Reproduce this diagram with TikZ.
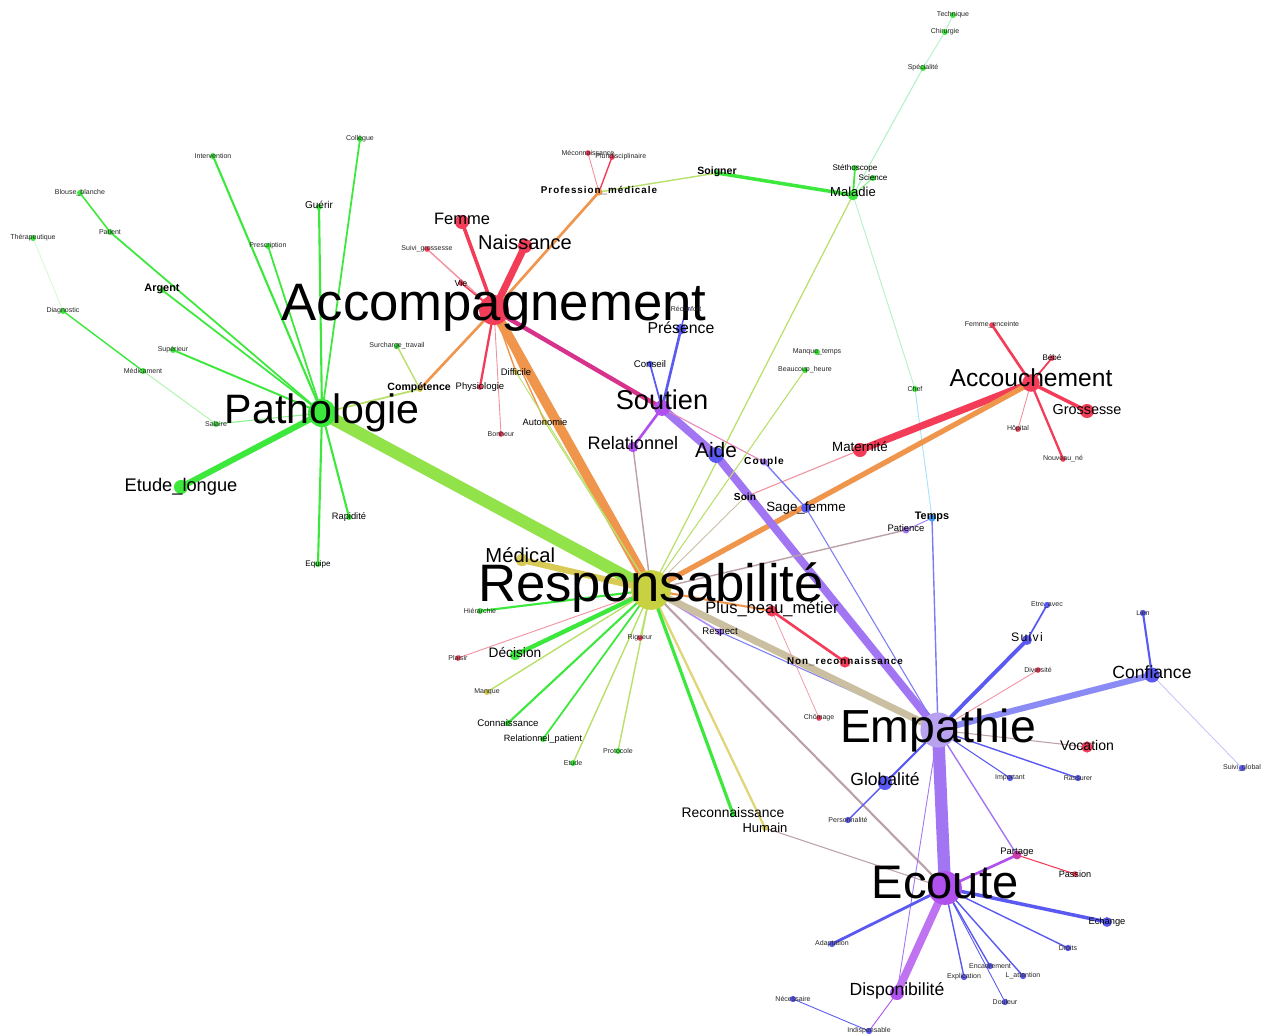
\documentclass[tikz,border=0pt]{standalone}
\usepackage{fontspec}
\setmainfont{Liberation Sans}
\newfontfamily\widefont{Liberation Sans}[LetterSpace=10]

\definecolor{cGreen}{HTML}{3DE83D}
\definecolor{cLime}{HTML}{B8E06A}
\definecolor{cPale}{HTML}{B4F0C8}
\definecolor{cRed}{HTML}{F23C58}
\definecolor{cPink}{HTML}{F290A0}
\definecolor{cOrange}{HTML}{F0954C}
\definecolor{cYellow}{HTML}{C8D240}
\definecolor{cGold}{HTML}{D8CA55}
\definecolor{cMagenta}{HTML}{D8338C}
\definecolor{cPurple}{HTML}{A276F2}
\definecolor{cViolet}{HTML}{B050EE}
\definecolor{cLavender}{HTML}{B8A2F0}
\definecolor{cBlue}{HTML}{5A5AF2}
\definecolor{cTan}{HTML}{CBBFA2}
\definecolor{cMauve}{HTML}{BCA0A8}
\definecolor{cPathoResp}{HTML}{92E24A}

\begin{document}
\begin{tikzpicture}[
    x=0.02cm,
    y=-0.02cm,
    line cap=round,
    link/.style={
        line width=#1
    },
    lab/.style={
        inner sep=0pt,
        font=\fontsize{#1}{#1}\selectfont
    },
    labb/.style={
        inner sep=0pt,
        font=\bfseries\fontsize{#1}{#1}\selectfont
    },
    labw/.style={
        inner sep=0pt,
        font=\widefont\bfseries\fontsize{#1}{#1}\selectfont
    },
    petit/.style={
        inner sep=0pt,
        text=black!85,
        font=\fontsize{4}{4}\selectfont
    }
]

\fill[white] (0,0) rectangle (1265,1035);
\useasboundingbox (0,0) rectangle (1265,1035);

% =================================================
% Positions des mots
% =================================================

% Pathologie
\coordinate (Patho) at (322,413);
\coordinate (EtudeL) at (181,487);
\coordinate (Rapidite) at (349,517);
\coordinate (Equipe) at (318,564);
\coordinate (Salaire) at (216,424);
\coordinate (Medicament) at (143,371);
\coordinate (Diagnostic) at (63,311);
\coordinate (Therap) at (33,238);
\coordinate (Superieur) at (173,350);
\coordinate (Argent) at (162,290);
\coordinate (Patient) at (110,232);
\coordinate (Blouse) at (80,193);
\coordinate (Interv) at (213,156);
\coordinate (Prescr) at (268,246);
\coordinate (Guerir) at (319,207);
\coordinate (Collegue) at (360,139);
\coordinate (Competence) at (420,389);
\coordinate (Surcharge) at (397,346);

% Accompagnement
\coordinate (Accomp) at (494,310);
\coordinate (Femme) at (462,222);
\coordinate (Naissance) at (525,246);
\coordinate (SuiviG) at (427,249);
\coordinate (Vie) at (461,283);
\coordinate (Physio) at (480,387);
\coordinate (Difficile) at (516,372);
\coordinate (Autonomie) at (545,422);
\coordinate (Bonheur) at (501,434);
\coordinate (ProfMed) at (599,192);
\coordinate (Meconn) at (588,153);
\coordinate (Pluri) at (612,157);
\coordinate (Soigner) at (717,173);
\coordinate (Maladie) at (853,195);
\coordinate (Stetho) at (855,168);
\coordinate (Science) at (873,178);
\coordinate (Specialite) at (923,68);
\coordinate (Chirurgie) at (945,32);
\coordinate (Technique) at (953,15);

% Soutien et Accouchement
\coordinate (Soutien) at (662,408);
\coordinate (Presence) at (681,329);
\coordinate (Reconfort) at (686,309);
\coordinate (Conseil) at (650,364);
\coordinate (Relationnel) at (633,447);
\coordinate (Aide) at (716,455);
\coordinate (Couple) at (764,462);
\coordinate (Soin) at (745,497);
\coordinate (SageF) at (806,508);
\coordinate (Maternite) at (860,450);
\coordinate (Accouch) at (1031,383);
\coordinate (Grossesse) at (1087,411);
\coordinate (FemmeE) at (992,325);
\coordinate (Bebe) at (1052,358);
\coordinate (Hopital) at (1018,429);
\coordinate (NouveauNe) at (1063,459);
\coordinate (Chef) at (915,389);
\coordinate (ManqueT) at (817,352);
\coordinate (BeaucoupH) at (805,370);
\coordinate (Temps) at (932,518);
\coordinate (Patience) at (906,530);

% Responsabilite
\coordinate (Resp) at (651,590);
\coordinate (Medical) at (522,560);
\coordinate (Hierarchie) at (480,611);
\coordinate (Plaisir) at (458,658);
\coordinate (Decision) at (515,655);
\coordinate (Manque) at (487,692);
\coordinate (Connaissance) at (508,723);
\coordinate (RelPatient) at (543,739);
\coordinate (Etude) at (573,763);
\coordinate (Protocole) at (618,751);
\coordinate (Rigueur) at (640,638);
\coordinate (Respect) at (720,632);
\coordinate (PlusBeau) at (772,611);
\coordinate (NonReco) at (845,662);
\coordinate (Chomage) at (819,718);
\coordinate (Reconn) at (733,814);
\coordinate (Humain) at (765,828);

% Empathie
\coordinate (Empathie) at (938,730);
\coordinate (Suivi) at (1027,640);
\coordinate (EtreAvec) at (1047,605);
\coordinate (Diversite) at (1038,670);
\coordinate (Confiance) at (1152,675);
\coordinate (Lien) at (1143,613);
\coordinate (SuiviGlobal) at (1242,768);
\coordinate (Vocation) at (1087,747);
\coordinate (Important) at (1010,778);
\coordinate (Rassurer) at (1078,778);
\coordinate (Globalite) at (885,783);
\coordinate (Personnalite) at (848,820);

% Ecoute
\coordinate (Ecoute) at (945,888);
\coordinate (Partage) at (1017,855);
\coordinate (Passion) at (1075,874);
\coordinate (Echange) at (1107,922);
\coordinate (Adaptation) at (832,944);
\coordinate (Droits) at (1068,948);
\coordinate (Encadrement) at (990,966);
\coordinate (Lattention) at (1023,976);
\coordinate (Explication) at (964,977);
\coordinate (Dispo) at (897,993);
\coordinate (Douleur) at (1005,1002);
\coordinate (Necessaire) at (793,999);
\coordinate (Indisp) at (869,1031);

% =================================================
% Liens
% =================================================

% Pathologie
\draw[link=3.4pt, cGreen] (Patho) -- (EtudeL);
\draw[link=1.2pt, cGreen] (Patho) -- (Rapidite);
\draw[link=1.2pt, cGreen] (Patho) -- (Equipe);
\draw[link=0.6pt, cGreen!60] (Patho) -- (Salaire);
\draw[link=1.1pt, cGreen] (Patho) -- (Superieur);
\draw[link=1pt, cGreen] (Patho) -- (Argent);
\draw[link=1pt, cGreen] (Patho) -- (Patient);
\draw[link=0.9pt, cGreen] (Patient) -- (Blouse);
\draw[link=1.2pt, cGreen] (Patho) -- (Interv);
\draw[link=1pt, cGreen] (Patho) -- (Prescr);
\draw[link=1.2pt, cGreen] (Patho) -- (Guerir);
\draw[link=1pt, cGreen] (Patho) -- (Collegue);
\draw[link=0.8pt, cGreen] (Diagnostic) -- (Medicament);
\draw[link=0.5pt, cGreen!45] (Medicament) -- (Salaire);
\draw[link=0.4pt, cGreen!25] (Therap) -- (Diagnostic);
\draw[link=0.8pt, cLime] (Surcharge) -- (Competence);
\draw[link=1pt, cLime] (Patho) -- (Competence);
\draw[link=7pt, cPathoResp] (Patho) -- (Resp);

% Accompagnement
\draw[link=2pt, cRed] (Accomp) -- (Femme);
\draw[link=4pt, cRed] (Accomp) -- (Naissance);
\draw[link=0.8pt, cPink] (Accomp) -- (SuiviG);
\draw[link=0.8pt, cRed] (Accomp) -- (Vie);
\draw[link=1.3pt, cRed] (Accomp) -- (Physio);
\draw[link=0.5pt, cPink] (Accomp) -- (Bonheur);
\draw[link=0.8pt, cOrange] (Accomp) -- (Difficile);
\draw[link=0.8pt, cOrange] (Accomp) -- (Autonomie);
\draw[link=1.5pt, cOrange] (Accomp) -- (ProfMed);
\draw[link=0.5pt, cPink] (ProfMed) -- (Meconn);
\draw[link=0.8pt, cRed] (ProfMed) -- (Pluri);
\draw[link=1.5pt, cOrange] (Accomp) -- (Competence);
\draw[link=5.5pt, cOrange] (Accomp) -- (Resp);
\draw[link=2.5pt, cMagenta] (Accomp) -- (Soutien);

% Maladie
\draw[link=0.8pt, cLime] (ProfMed) -- (Soigner);
\draw[link=2pt, cGreen] (Soigner) -- (Maladie);
\draw[link=1pt, cGreen] (Maladie) -- (Stetho);
\draw[link=0.6pt, cGreen!60] (Maladie) -- (Science);
\draw[link=0.6pt, cPale] (Maladie) -- (Specialite);
\draw[link=0.5pt, cPale] (Specialite) -- (Chirurgie);
\draw[link=0.5pt, cPale] (Chirurgie) -- (Technique);
\draw[link=0.7pt, cLime] (Maladie) -- (Resp);
\draw[link=0.5pt, cPale] (Maladie) -- (Chef);
\draw[link=0.5pt, cyan!35] (Chef) -- (Temps);

% Accouchement
\draw[link=4pt, cRed] (Maternite) -- (Accouch);
\draw[link=3pt, cOrange] (Resp) -- (Accouch);
\draw[link=0.6pt, cPink] (Soin) -- (Maternite);
\draw[link=1.5pt, cRed] (Accouch) -- (FemmeE);
\draw[link=1pt, cRed] (Accouch) -- (Bebe);
\draw[link=2pt, cRed] (Accouch) -- (Grossesse);
\draw[link=0.5pt, cPink] (Accouch) -- (Hopital);
\draw[link=1.3pt, cRed] (Accouch) -- (NouveauNe);

% Soutien
\draw[link=1.5pt, cBlue] (Soutien) -- (Presence);
\draw[link=0.8pt, cBlue] (Presence) -- (Reconfort);
\draw[link=1pt, cBlue] (Soutien) -- (Conseil);
\draw[link=1.5pt, cViolet] (Soutien) -- (Relationnel);
\draw[link=4.5pt, cPurple] (Soutien) -- (Aide);
\draw[link=4.5pt, cPurple] (Aide) -- (Empathie);
\draw[link=0.6pt, cMagenta!60] (Soutien) -- (Couple);
\draw[link=0.8pt, cBlue!80] (Couple) -- (SageF);
\draw[link=0.6pt, cBlue!80] (SageF) -- (Empathie);

% Responsabilite
\draw[link=0.5pt, cLime] (Resp) -- (Difficile);
\draw[link=0.6pt, cLime] (Resp) -- (Autonomie);
\draw[link=0.6pt, cLime] (Resp) -- (BeaucoupH);
\draw[link=0.8pt, cMauve] (Resp) -- (Relationnel);
\draw[link=0.5pt, cTan] (Resp) -- (Soin);
\draw[link=0.8pt, cMauve] (Resp) -- (Patience);
\draw[link=0.5pt, cPurple] (Patience) -- (Temps);
\draw[link=0.8pt, cBlue!80] (Temps) -- (Empathie);
\draw[link=1pt, cPurple!80] (Resp) -- (Respect);
\draw[link=0.6pt, cBlue!80] (Respect) -- (Empathie);
\draw[link=4pt, cTan] (Resp) -- (Empathie);
\draw[link=1.2pt, cMauve] (Resp) -- (Ecoute);
\draw[link=1.3pt, cGold!80] (Resp) -- (Humain);
\draw[link=0.6pt, cMauve] (Humain) -- (Ecoute);
\draw[link=1.8pt, cGreen] (Resp) -- (Reconn);
\draw[link=3.5pt, cGold] (Resp) -- (Medical);
\draw[link=1.2pt, cGreen] (Resp) -- (Hierarchie);
\draw[link=0.5pt, cPink] (Resp) -- (Plaisir);
\draw[link=2.5pt, cGreen] (Resp) -- (Decision);
\draw[link=0.8pt, cLime] (Resp) -- (Manque);
\draw[link=1.2pt, cGreen] (Resp) -- (Connaissance);
\draw[link=1pt, cGreen] (Resp) -- (RelPatient);
\draw[link=0.8pt, cLime] (Resp) -- (Etude);
\draw[link=0.8pt, cLime] (Resp) -- (Protocole);
\draw[link=0.6pt, cLime] (Resp) -- (Rigueur);
\draw[link=1.2pt, cOrange] (Resp) -- (PlusBeau);
\draw[link=1.5pt, cRed] (PlusBeau) -- (NonReco);
\draw[link=0.4pt, cPink] (PlusBeau) -- (Chomage);

% Empathie
\draw[link=2.2pt, cBlue] (Empathie) -- (Suivi);
\draw[link=1pt, cBlue] (Suivi) -- (EtreAvec);
\draw[link=0.5pt, cPink] (Empathie) -- (Diversite);
\draw[link=3.5pt, cBlue!70] (Empathie) -- (Confiance);
\draw[link=1.2pt, cBlue] (Confiance) -- (Lien);
\draw[link=0.4pt, cBlue!40] (Confiance) -- (SuiviGlobal);
\draw[link=0.6pt, cMauve] (Empathie) -- (Vocation);
\draw[link=0.6pt, cBlue] (Empathie) -- (Important);
\draw[link=0.8pt, cBlue] (Empathie) -- (Rassurer);
\draw[link=1.2pt, cBlue] (Empathie) -- (Globalite);
\draw[link=0.8pt, cBlue] (Globalite) -- (Personnalite);
\draw[link=7pt, cPurple] (Empathie) -- (Ecoute);
\draw[link=0.8pt, cPurple] (Empathie) -- (Partage);
\draw[link=0.5pt, cPurple] (Empathie) -- (Dispo);

% Ecoute
\draw[link=1.5pt, cViolet] (Partage) -- (Ecoute);
\draw[link=0.6pt, cRed] (Partage) -- (Passion);
\draw[link=2pt, cBlue] (Ecoute) -- (Echange);
\draw[link=0.8pt, cBlue] (Ecoute) -- (Droits);
\draw[link=0.8pt, cBlue] (Ecoute) -- (Encadrement);
\draw[link=0.8pt, cBlue] (Ecoute) -- (Lattention);
\draw[link=0.8pt, cBlue] (Ecoute) -- (Explication);
\draw[link=0.5pt, cBlue] (Ecoute) -- (Douleur);
\draw[link=1.6pt, cBlue] (Ecoute) -- (Adaptation);
\draw[link=4.5pt, cViolet!80] (Ecoute) -- (Dispo);
\draw[link=0.5pt, cViolet] (Dispo) -- (Indisp);
\draw[link=0.5pt, cBlue] (Necessaire) -- (Indisp);

% =================================================
% Points
% =================================================

\fill[cYellow] (Resp) circle (11.3pt);
\fill[cRed] (Accomp) circle (8.5pt);
\fill[cGreen] (Patho) circle (8pt);
\fill[cLavender] (Empathie) circle (10pt);
\fill[cViolet] (Ecoute) circle (9.6pt);
\fill[cViolet] (Soutien) circle (4.5pt);
\fill[cRed] (Accouch) circle (5pt);
\fill[cBlue] (Aide) circle (4.5pt);
\fill[cBlue] (Confiance) circle (4.3pt);
\fill[cViolet] (Dispo) circle (4pt);

\foreach \n in {Naissance,Femme,Grossesse,Maternite}
    \fill[cRed] (\n) circle (4pt);
\foreach \n in {PlusBeau,Vocation,NonReco}
    \fill[cRed] (\n) circle (3.2pt);
\foreach \n in {Vie,SuiviG,Physio,Bonheur,Meconn,Pluri,FemmeE,Bebe,Hopital,
        NouveauNe,Plaisir,Rigueur,Chomage,Diversite,Passion}
    \fill[cRed] (\n) circle (1.6pt);
\fill[cGreen] (EtudeL) circle (4pt);
\fill[cGreen] (Decision) circle (3pt);
\fill[cGreen] (Maladie) circle (3pt);
\foreach \n in {Rapidite,Equipe,Salaire,Medicament,Diagnostic,Therap,Superieur,
        Argent,Patient,Blouse,Interv,Prescr,Guerir,Collegue,Surcharge,Soigner,
        Stetho,Science,Specialite,Chirurgie,Technique,Chef,ManqueT,BeaucoupH,
        Hierarchie,Connaissance,RelPatient,Etude,Protocole,Reconn}
    \fill[cGreen] (\n) circle (1.7pt);
\fill[cGold] (Medical) circle (3.5pt);
\foreach \n in {Competence,Difficile,Autonomie,Manque,Humain}
    \fill[cGold] (\n) circle (1.7pt);
\fill[cOrange] (ProfMed) circle (2pt);
\fill[cBlue] (Globalite) circle (4pt);
\fill[cBlue] (Presence) circle (3pt);
\fill[cBlue] (Suivi) circle (2.8pt);
\fill[cBlue] (Echange) circle (2.8pt);
\fill[cBlue] (SageF) circle (2.8pt);
\foreach \n in {Reconfort,Conseil,EtreAvec,Lien,SuiviGlobal,Important,Rassurer,
        Personnalite,Adaptation,Droits,Encadrement,Lattention,Explication,
        Douleur,Necessaire,Indisp}
    \fill[cBlue] (\n) circle (1.8pt);
\fill[cBlue!60!cyan] (Temps) circle (2pt);
\fill[cViolet] (Relationnel) circle (3pt);
\foreach \n in {Couple,Patience,Respect}
    \fill[cPurple] (\n) circle (2pt);
\fill[cMagenta!70!cViolet] (Partage) circle (2.5pt);

% =================================================
% Etiquettes
% =================================================

% Grandes
\node[lab=30] (tResp) at ([yshift=1.5pt]Resp) {Responsabilité};
\node[lab=30] (tAccomp) at ([yshift=1.5pt]Accomp) {Accompagnement};
\node[lab=26.4] (tEmpathie) at (Empathie) {Empathie};
\node[lab=26.8] (tEcoute) at ([yshift=3pt]Ecoute) {Ecoute};
\node[lab=23.4] (tPatho) at (Patho) {Pathologie};
\node[lab=15.5] (tSoutien) at ([yshift=4.5pt]Soutien) {Soutien};
\node[lab=14] (tAccouch) at ([yshift=3pt]Accouch) {Accouchement};

% Moyennes
\node[lab=11.4] (tNaissance) at ([yshift=2pt]Naissance) {Naissance};
\node[lab=11.9] (tAide) at ([yshift=3pt]Aide) {Aide};
\node[lab=11.5] (tMedical) at ([xshift=-1pt,yshift=3pt]Medical) {Médical};
\node[lab=10.3] (tRelationnel) at ([yshift=2pt]Relationnel) {Relationnel};
\node[lab=10.4] (tEtudeL) at (EtudeL) {Etude\_longue};
\node[lab=10] (tConfiance) at ([yshift=1.7pt]Confiance) {Confiance};
\node[lab=10] (tGlobalite) at ([yshift=2pt]Globalite) {Globalité};
\node[lab=10] (tDispo) at ([yshift=1pt]Dispo) {Disponibilité};
\node[lab=9.4] (tFemme) at ([yshift=1.7pt]Femme) {Femme};
\node[lab=9] (tPresence) at ([yshift=0.5pt]Presence) {Présence};
\node[lab=9.4] (tPlusBeau) at ([yshift=1pt]PlusBeau) {Plus\_beau\_métier};
\node[lab=8.2] (tGrossesse) at ([yshift=1pt]Grossesse) {Grossesse};
\node[lab=8] (tVocation) at ([yshift=1pt]Vocation) {Vocation};
\node[lab=7.9] (tReconn) at ([yshift=1pt]Reconn) {Reconnaissance};
\node[lab=7.8] (tDecision) at ([yshift=1.7pt]Decision) {Décision};
\node[lab=7.6] (tMaternite) at ([yshift=1.7pt]Maternite) {Maternité};
\node[lab=7.6] (tSageF) at (SageF) {Sage\_femme};
\node[lab=7.4] (tHumain) at (Humain) {Humain};
\node[lab=7.4] (tMaladie) at ([yshift=2pt]Maladie) {Maladie};
\node[lab=7] (tSuivi) at ([yshift=1.7pt]Suivi) {\widefont Suivi};

% Grasses
\node[labw=5.6] (tProfMed) at ([yshift=1pt]ProfMed) {Profession\_médicale};
\node[labb=6] (tSoigner) at ([yshift=0.5pt]Soigner) {Soigner};
\node[labb=6.2] (tArgent) at ([yshift=0.5pt]Argent) {Argent};
\node[labb=6] (tCompetence) at ([xshift=-0.5pt,yshift=1pt]Competence) {Compétence};
\node[labw=5.8] (tCouple) at (Couple) {Couple};
\node[labb=5.8] (tSoin) at (Soin) {Soin};
\node[labb=6.2] (tTemps) at ([yshift=0.5pt]Temps) {Temps};
\node[labw=5.6] (tNonReco) at ([yshift=0.5pt]NonReco) {Non\_reconnaissance};

% Petites
\node[lab=5.7] (tGuerir) at ([yshift=1pt]Guerir) {Guérir};
\node[lab=5.5] (tConnaissance) at (Connaissance) {Connaissance};
\node[lab=5.2] (tRelPatient) at (RelPatient) {Relationnel\_patient};
\node[lab=5.3] (tRapidite) at (Rapidite) {Rapidité};
\node[lab=5.5] (tRespect) at (Respect) {Respect};
\node[lab=5.4] (tPatience) at ([yshift=1pt]Patience) {Patience};
\node[lab=5.4] (tPartage) at ([yshift=1.5pt]Partage) {Partage};
\node[lab=5.2] (tPassion) at (Passion) {Passion};
\node[lab=5.3] (tEchange) at (Echange) {Echange};
\node[lab=5.4] (tPhysio) at (Physio) {Physiologie};
\node[lab=5.4] (tDifficile) at (Difficile) {Difficile};
\node[lab=5.3] (tAutonomie) at (Autonomie) {Autonomie};
\node[lab=5.5] (tConseil) at (Conseil) {Conseil};
\node[lab=5] (tVie) at (Vie) {Vie};
\node[lab=4.6] (tEquipe) at (Equipe) {Equipe};
\node[lab=4.6] (tBebe) at (Bebe) {Bébé};
\node[lab=4.6] (tStetho) at (Stetho) {Stéthoscope};
\node[lab=4.6] (tScience) at (Science) {Science};

% Minuscules
\node[petit] (tSalaire) at (Salaire) {Salaire};
\node[petit] (tMedicament) at (Medicament) {Médicament};
\node[petit] (tDiagnostic) at (Diagnostic) {Diagnostic};
\node[petit] (tTherap) at (Therap) {Thérapeutique};
\node[petit] (tSuperieur) at (Superieur) {Supérieur};
\node[petit] (tPatient) at (Patient) {Patient};
\node[petit] (tBlouse) at (Blouse) {Blouse\_blanche};
\node[petit] (tInterv) at (Interv) {Intervention};
\node[petit] (tPrescr) at (Prescr) {Prescription};
\node[petit] (tCollegue) at (Collegue) {Collègue};
\node[petit] (tSurcharge) at (Surcharge) {Surcharge\_travail};
\node[petit] (tSuiviG) at (SuiviG) {Suivi\_grossesse};
\node[petit] (tBonheur) at (Bonheur) {Bonheur};
\node[petit] (tMeconn) at (Meconn) {Méconnaissance};
\node[petit] (tPluri) at ([xshift=5]Pluri) {Pluridisciplinaire};
\node[petit] (tSpecialite) at (Specialite) {Spécialité};
\node[petit] (tChirurgie) at (Chirurgie) {Chirurgie};
\node[petit] (tTechnique) at (Technique) {Technique};
\node[petit] (tReconfort) at (Reconfort) {Réconfort};
\node[petit] (tFemmeE) at (FemmeE) {Femme\_enceinte};
\node[petit] (tHopital) at (Hopital) {Hôpital};
\node[petit] (tNouveauNe) at (NouveauNe) {Nouveau\_né};
\node[petit] (tChef) at (Chef) {Chef};
\node[petit] (tManqueT) at (ManqueT) {Manque\_temps};
\node[petit] (tBeaucoupH) at (BeaucoupH) {Beaucoup\_heure};
\node[petit] (tHierarchie) at (Hierarchie) {Hiérarchie};
\node[petit] (tPlaisir) at (Plaisir) {Plaisir};
\node[petit] (tManque) at (Manque) {Manque};
\node[petit] (tEtude) at (Etude) {Etude};
\node[petit] (tProtocole) at (Protocole) {Protocole};
\node[petit] (tRigueur) at (Rigueur) {Rigueur};
\node[petit] (tChomage) at (Chomage) {Chômage};
\node[petit] (tEtreAvec) at (EtreAvec) {Etre\_avec};
\node[petit] (tDiversite) at (Diversite) {Diversité};
\node[petit] (tLien) at (Lien) {Lien};
\node[petit] (tSuiviGlobal) at (SuiviGlobal) {Suivi\_global};
\node[petit] (tImportant) at (Important) {Important};
\node[petit] (tRassurer) at (Rassurer) {Rassurer};
\node[petit] (tPersonnalite) at (Personnalite) {Personnalité};
\node[petit] (tAdaptation) at (Adaptation) {Adaptation};
\node[petit] (tDroits) at (Droits) {Droits};
\node[petit] (tEncadrement) at (Encadrement) {Encadrement};
\node[petit] (tLattention) at (Lattention) {L\_attention};
\node[petit] (tExplication) at (Explication) {Explication};
\node[petit] (tDouleur) at (Douleur) {Douleur};
\node[petit] (tNecessaire) at (Necessaire) {Nécessaire};
\node[petit] (tIndisp) at (Indisp) {Indispensable};

\end{tikzpicture}
\end{document}
